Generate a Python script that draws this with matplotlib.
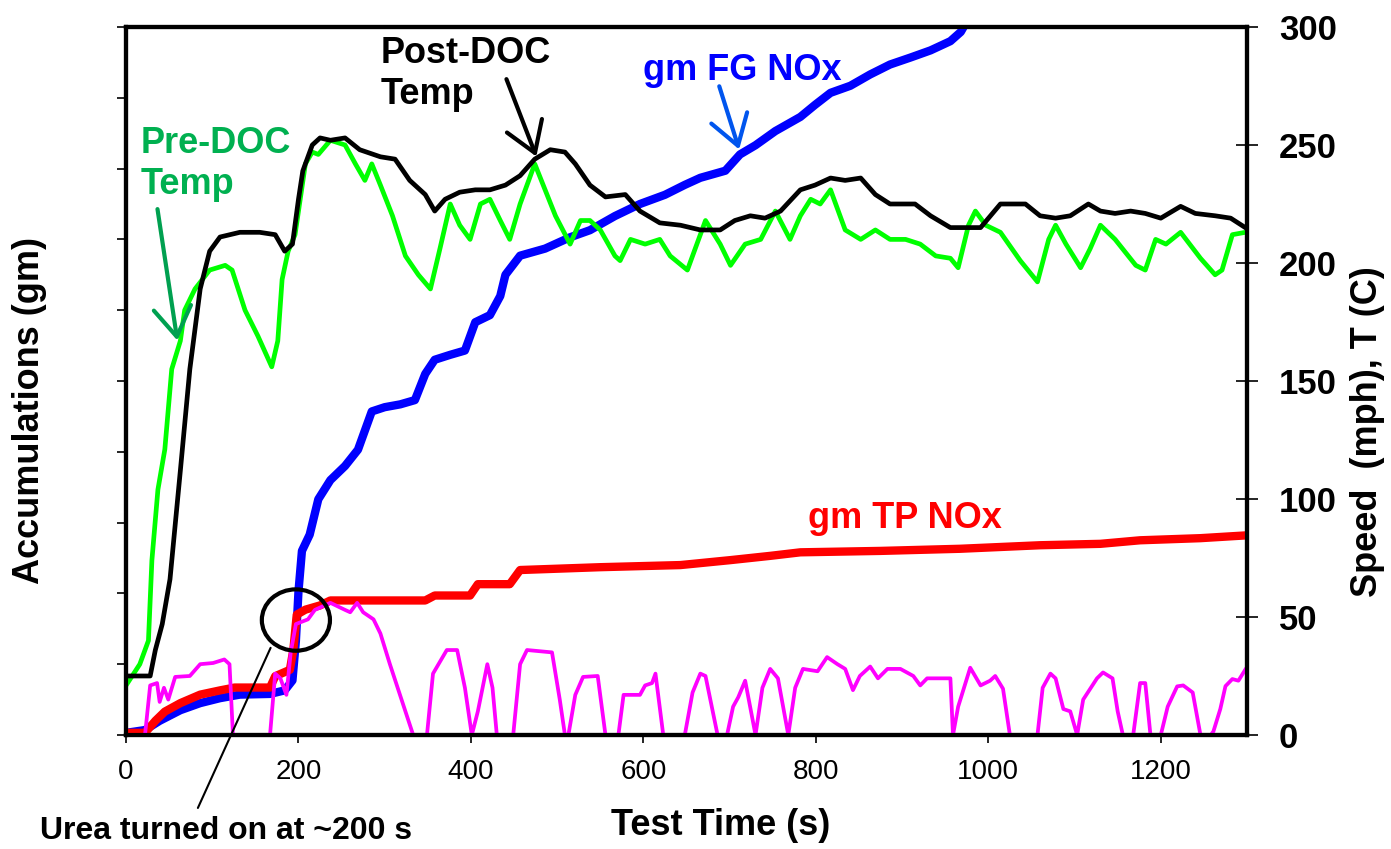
import matplotlib
matplotlib.use('Agg')
import matplotlib.pyplot as plt
from matplotlib.patches import Ellipse

plt.rcParams['font.family'] = ['Liberation Sans', 'DejaVu Sans']

# Post-DOC temperature (C) vs test time (s)
post_t = [0, 28, 34, 42, 51, 63, 74, 86, 97, 109, 132, 155, 173, 184, 193, 200, 205, 216, 225,
          237, 254, 271, 295, 312, 329, 347, 358, 370, 387, 405, 422, 440, 457, 474, 492, 509,
          521, 538, 556, 579, 596, 619, 643, 666, 689, 706, 724, 741, 759, 782, 799, 817, 834,
          852, 869, 886, 915, 933, 956, 991, 1014, 1043, 1060, 1078, 1095, 1116, 1130, 1147,
          1165, 1182, 1200, 1223, 1240, 1263, 1281, 1298]
post_T = [25, 25, 36, 47, 66, 112, 155, 189, 205, 211, 213, 213, 212, 205, 208, 227, 239, 250,
          253, 252, 253, 248, 245, 244, 235, 229, 222, 227, 230, 231, 231, 233, 237, 244, 248,
          247, 242, 233, 228, 229, 222, 217, 216, 214, 214, 218, 220, 219, 222, 231, 233, 236,
          235, 236, 229, 225, 225, 220, 215, 215, 225, 225, 220, 219, 220, 225, 222, 221, 222,
          221, 219, 224, 221, 220, 219, 215]

# Pre-DOC temperature (C)
pre_t = [0, 16, 26, 30, 37, 45, 53, 63, 68, 80, 97, 115, 123, 138, 153, 169, 176, 181, 188,
         196, 202, 208, 216, 223, 237, 254, 266, 277, 285, 295, 309, 324, 339, 353, 364, 376,
         387, 399, 411, 422, 434, 445, 457, 474, 486, 498, 515, 527, 538, 550, 567, 573, 585,
         602, 619, 631, 651, 662, 672, 689, 701, 718, 736, 753, 770, 782, 794, 805, 817, 834,
         852, 869, 886, 904, 921, 939, 956, 965, 977, 985, 997, 1014, 1037, 1057, 1070, 1078,
         1090, 1107, 1118, 1130, 1147, 1171, 1182, 1194, 1206, 1223, 1246, 1263, 1271, 1283, 1298]
pre_T = [21, 30, 40, 74, 104, 121, 155, 167, 180, 189, 197, 199, 197, 180, 169, 156, 167, 193,
         205, 212, 227, 242, 247, 246, 252, 250, 242, 235, 242, 233, 220, 203, 195, 189, 206,
         225, 216, 210, 225, 227, 218, 210, 225, 242, 231, 220, 208, 218, 218, 214, 203, 201,
         210, 208, 210, 203, 197, 208, 218, 208, 199, 208, 210, 222, 210, 220, 227, 225, 231,
         214, 210, 214, 210, 210, 208, 203, 202, 198, 216, 222, 216, 213, 201, 192, 210, 216,
         208, 198, 206, 216, 210, 199, 197, 210, 208, 213, 202, 195, 197, 212, 213]

# Cumulative feed-gas NOx (gm)
fg_t = [0, 22, 39, 63, 86, 109, 132, 167, 184, 193, 197, 200, 204, 213, 223, 237, 254, 269,
        277, 285, 300, 318, 335, 347, 358, 376, 393, 405, 422, 434, 440, 457, 486, 515, 538,
        567, 596, 625, 648, 666, 695, 712, 730, 753, 782, 799, 817, 840, 863, 886, 910, 933,
        956, 968, 976]
fg_gm = [0.3, 0.7, 2.0, 3.5, 4.5, 5.2, 5.7, 5.8, 6.3, 7.7, 13.3, 20.3, 26.0, 28.3, 33.3, 36.0,
         38.0, 40.3, 43.0, 45.7, 46.3, 46.7, 47.3, 51.0, 53.0, 53.7, 54.3, 58.3, 59.3, 62.0,
         65.0, 67.7, 68.7, 70.3, 71.3, 73.3, 75.0, 76.3, 77.7, 78.7, 79.7, 82.0, 83.3, 85.3,
         87.3, 89.0, 90.7, 91.7, 93.3, 94.7, 95.7, 96.7, 98.0, 99.3, 101.0]

# Cumulative tailpipe NOx (gm)
tp_t = [0, 22, 34, 45, 63, 86, 109, 126, 167, 173, 190, 194, 198, 208, 225, 237, 347, 358,
        399, 408, 445, 457, 550, 643, 701, 747, 782, 875, 967, 1060, 1130, 1176, 1246, 1300]
tp_gm = [0.3, 0.3, 2.0, 3.3, 4.5, 5.7, 6.3, 6.7, 6.7, 8.3, 9.2, 12.0, 17.0, 17.7, 18.3, 19.0,
         19.0, 19.7, 19.7, 21.3, 21.3, 23.3, 23.7, 24.0, 24.7, 25.3, 25.8, 26.0, 26.3, 26.8,
         27.0, 27.5, 27.8, 28.2]

# Vehicle speed (mph)
spd_t = [0, 22, 28, 36, 39, 44, 49, 57, 74, 86, 101, 114, 120, 124, 167, 173, 179, 186, 191,
         197, 211, 219, 237, 254, 260, 268, 275, 287, 295, 306, 333, 349, 356, 372, 384, 393,
         401, 408, 419, 425, 430, 449, 457, 465, 494, 503, 509, 513, 521, 530, 547, 556, 571,
         577, 596, 602, 610, 614, 623, 648, 657, 666, 672, 686, 697, 704, 710, 718, 730, 738,
         747, 756, 768, 776, 785, 802, 813, 825, 834, 843, 851, 863, 872, 883, 898, 913, 921,
         929, 941, 956, 959, 965, 979, 991, 1002, 1008, 1017, 1025, 1057, 1063, 1072, 1078,
         1087, 1095, 1103, 1110, 1126, 1133, 1144, 1150, 1156, 1168, 1176, 1182, 1188, 1200,
         1208, 1219, 1226, 1237, 1246, 1258, 1261, 1269, 1275, 1283, 1290, 1298]
spd = [0, 0, 21, 22, 14, 20, 15, 24.6, 25, 30, 30.5, 32, 30, 0, 0, 26, 24, 17, 35, 47, 49, 53,
       56, 53, 52, 56, 52, 49, 43, 30, 0, 0, 26, 36, 36, 20, 0, 10, 30, 20, 0, 0, 30, 36, 35,
       15, 0, 0, 17, 24.6, 25, 0, 0, 17, 17, 21, 22, 26, 0, 0, 18, 26, 25, 0, 0, 12, 16, 23,
       0, 20, 28, 24, 0, 20, 28, 27, 33, 30, 28, 19, 25, 29, 24, 28, 28, 25, 21, 24, 24, 24,
       0, 12, 28.5, 21, 23, 25, 19.6, 0, 0, 20, 26, 24, 11, 10, 0, 15, 24, 26.5, 24, 10, 0,
       0, 22, 22, 0, 0, 12, 20.6, 21, 18, 0, 0, 1.5, 11, 20.7, 23.7, 23, 27.7]

fig = plt.figure(figsize=(13.91, 8.49), dpi=100)
ax1 = fig.add_axes([0.0906, 0.1343, 0.8059, 0.8339])
ax2 = ax1.twinx()

# accumulations on the left axis, temperatures and speed on the right
ax1.plot(fg_t, fg_gm, color='#0000FF', lw=6, zorder=3)
ax1.plot(tp_t, tp_gm, color='#FF0000', lw=6, zorder=4)
ax2.plot(pre_t, pre_T, color='#00FF00', lw=3.4)
ax2.plot(post_t, post_T, color='black', lw=3.4)
ax2.plot(spd_t, spd, color='#FF00FF', lw=2.7)

ax1.set_xlim(0, 1300)
ax1.set_ylim(0, 100)
ax2.set_ylim(0, 300)
ax1.set_xticks(range(0, 1400, 200))
ax1.set_yticks(range(0, 101, 10))
ax1.set_yticklabels([])
ax2.set_yticks(range(0, 301, 50))

ax1.tick_params(axis='x', direction='out', length=6, width=1.2, pad=11, labelsize=20)
ax1.tick_params(axis='y', direction='out', length=6.5, width=1.2)
ax2.tick_params(axis='y', direction='inout', length=16, width=1.2, pad=15, labelsize=25)
for lab in ax2.get_yticklabels():
    lab.set_fontweight('bold')

for ax in (ax1, ax2):
    for sp in ax.spines.values():
        sp.set_linewidth(3)

arrow_kw = dict(arrowstyle='->,head_length=0.7,head_width=0.45', lw=3, mutation_scale=30)

# annotations
ax2.text(17, 258, 'Pre-DOC\nTemp', color='#00B050', fontsize=26, fontweight='bold',
         ha='left', va='top', linespacing=1.2)
ax2.annotate('', xy=(60, 166), xytext=(36, 224), arrowprops=dict(color='#00A050', **arrow_kw))

ax2.text(295, 296, 'Post-DOC\nTemp', color='black', fontsize=26, fontweight='bold',
         ha='left', va='top', linespacing=1.2)
ax2.annotate('', xy=(477, 244), xytext=(440, 279), arrowprops=dict(color='black', **arrow_kw))

ax2.text(600, 289, 'gm FG NOx', color='#0000FF', fontsize=26, fontweight='bold',
         ha='left', va='top')
ax2.annotate('', xy=(712, 247), xytext=(687, 276), arrowprops=dict(color='#0055EE', **arrow_kw))

ax2.text(791, 99, 'gm TP NOx', color='#FF0000', fontsize=26, fontweight='bold',
         ha='left', va='top')

ax2.add_patch(Ellipse((197, 48.7), 79, 26, fill=False, edgecolor='black', lw=3, zorder=6))
ax2.annotate('', xy=(169, 38), xytext=(82, -32), annotation_clip=False,
             arrowprops=dict(arrowstyle='-', color='black', lw=1.5))
fig.text(40 / 1391, 1 - 816 / 849, 'Urea turned on at ~200 s', fontsize=23,
         fontweight='bold', ha='left', va='top')

fig.text(0.518, 0.028, 'Test Time (s)', fontsize=26, fontweight='bold', ha='center', va='center')
fig.text(0.021, 0.516, 'Accumulations (gm)', fontsize=26, fontweight='bold', rotation=90,
         ha='center', va='center')
fig.text(0.983, 0.492, 'Speed  (mph), T (C)', fontsize=26, fontweight='bold', rotation=90,
         ha='center', va='center')

fig.savefig('out.png', dpi=100)
